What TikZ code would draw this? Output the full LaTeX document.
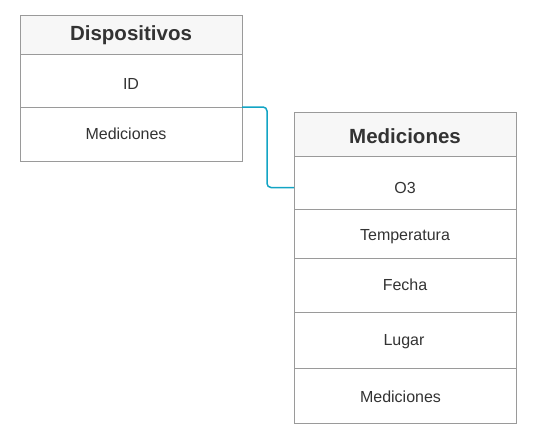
\documentclass[tikz,border=0pt]{standalone}
\usepackage{fontspec}
\setmainfont{Liberation Sans}
\definecolor{bordergray}{HTML}{9A9A9A}
\definecolor{headfill}{HTML}{F7F7F7}
\definecolor{txt}{HTML}{333333}
\definecolor{conncol}{HTML}{12A4C4}
\tikzset{
  cell/.style={draw=bordergray, line width=1pt, fill=white, minimum width=222pt,
    inner sep=0pt, outer sep=0pt, anchor=north west, text=txt,
    font=\fontsize{16}{19}\selectfont, text height=11.5pt, text depth=0pt},
  head/.style={cell, fill=headfill, font=\bfseries\fontsize{20.5}{24}\selectfont,
    text height=14.7pt},
  conn/.style={draw=conncol, line width=1.5pt, rounded corners=4pt},
}
\begin{document}
\begin{tikzpicture}[x=1pt,y=-1pt]
\useasboundingbox (0,0) rectangle (543,442);
% Dispositivos table
\node[head, minimum height=39pt, text height=14.7pt, text depth=2pt] (dhead) at (20,15) {Dispositivos};
\node[cell, minimum height=53pt, text height=17pt] (did) at (dhead.south west) {ID};
\node[cell, minimum height=54pt, text height=11.5pt, text depth=1.4pt] (dmed) at (did.south west) {\kern-10pt Mediciones};
% Mediciones table
\node[head, minimum height=44pt, text height=18.7pt] (mhead) at (294,112) {Mediciones};
\node[cell, minimum height=53pt, text height=21.5pt] (o3) at (mhead.south west) {O3};
\node[cell, minimum height=49pt, text height=14.5pt] (temp) at (o3.south west) {Temperatura};
\node[cell, minimum height=54pt, text height=11.5pt] (fecha) at (temp.south west) {Fecha};
\node[cell, minimum height=56pt, text height=11.5pt, text depth=1.4pt] (lugar) at (fecha.south west) {\kern-2pt Lugar};
\node[cell, minimum height=55pt, text height=14.1pt] (mmed) at (lugar.south west) {\kern-9pt Mediciones};
% connector
\draw[conn] (did.south east) -- ++(25,0) |- ([yshift=-5pt]o3.west);
\end{tikzpicture}
\end{document}
